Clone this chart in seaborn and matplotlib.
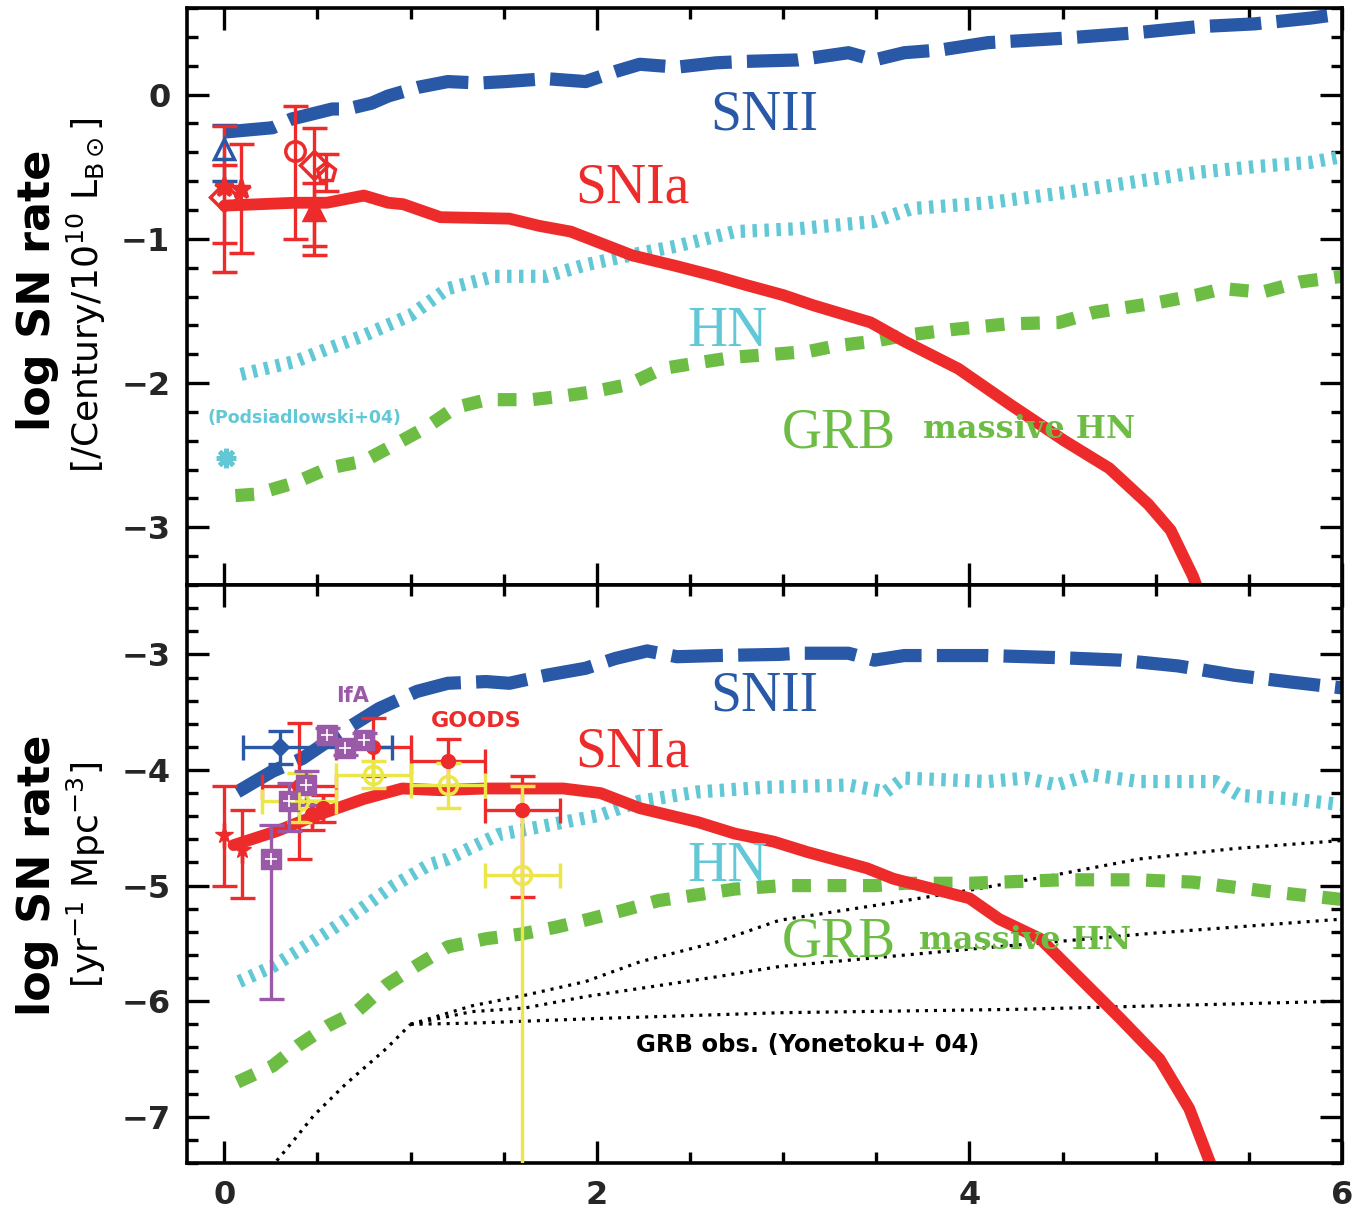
import numpy as np
import pandas as pd
import matplotlib
matplotlib.use("Agg")
import matplotlib.pyplot as plt
import seaborn as sns
from matplotlib.ticker import MultipleLocator

# ---------------- data: top panel (per luminosity) ----------------
snii_top_x = [0.0, 0.26, 0.36, 0.58, 0.66, 0.79, 0.88, 1.04, 1.2, 1.37, 1.51, 1.73, 1.94, 2.1, 2.23, 2.43, 2.64, 2.8,
              3.08, 3.35, 3.49, 3.65, 3.85, 4.1, 4.5, 4.91, 5.22, 5.53, 5.83, 6.0]
snii_top_y = [-0.26, -0.23, -0.17, -0.10, -0.10, -0.06, -0.01, 0.05, 0.09, 0.08, 0.09, 0.11, 0.09, 0.16, 0.21, 0.19,
              0.22, 0.23, 0.24, 0.29, 0.24, 0.29, 0.31, 0.36, 0.39, 0.43, 0.47, 0.49, 0.53, 0.56]

snia_top_x = [0.0, 0.38, 0.55, 0.75, 0.88, 0.96, 1.16, 1.53, 1.69, 1.86, 2.02, 2.19, 2.43, 2.64, 2.8, 3.0, 3.16,
              3.47, 3.65, 3.94, 4.22, 4.51, 4.75, 4.96, 5.08, 5.2, 5.26]
snia_top_y = [-0.77, -0.75, -0.75, -0.70, -0.75, -0.76, -0.85, -0.86, -0.91, -0.95, -1.03, -1.115, -1.19, -1.26,
              -1.32, -1.39, -1.46, -1.58, -1.71, -1.90, -2.15, -2.40, -2.59, -2.84, -3.02, -3.34, -3.55]

hn_top_x = [0.09, 0.38, 0.56, 0.75, 1.0, 1.2, 1.45, 1.73, 1.94, 2.23, 2.43, 2.74, 3.08, 3.49, 3.69, 4.1, 4.51,
            4.91, 5.22, 5.53, 5.83, 6.0]
hn_top_y = [-1.94, -1.85, -1.76, -1.67, -1.53, -1.345, -1.26, -1.26, -1.18, -1.10, -1.05, -0.95, -0.93, -0.88,
            -0.79, -0.75, -0.68, -0.60, -0.54, -0.50, -0.47, -0.43]

grb_top_x = [0.06, 0.17, 0.38, 0.56, 0.75, 0.91, 1.08, 1.24, 1.41, 1.65, 1.82, 1.98, 2.17, 2.35, 2.54, 2.74, 2.95,
             3.14, 3.29, 3.49, 3.65, 3.9, 4.2, 4.48, 4.67, 5.02, 5.22, 5.36, 5.57, 5.77, 6.0]
grb_top_y = [-2.78, -2.77, -2.69, -2.59, -2.54, -2.43, -2.31, -2.17, -2.115, -2.115, -2.09, -2.06, -2.01, -1.90,
             -1.86, -1.82, -1.80, -1.78, -1.74, -1.71, -1.67, -1.63, -1.59, -1.58, -1.51, -1.44, -1.39, -1.345,
             -1.37, -1.30, -1.26]

# observed rates, top panel: x, y, y_low, y_high
obs_top_x = [0.0, 0.0, 0.0, 0.09, 0.38, 0.48, 0.545, 0.48]
obs_top_y = [-0.38, -0.71, -0.64, -0.655, -0.39, -0.49, -0.54, -0.80]
obs_top_lo = [-0.60, -1.23, -1.03, -1.10, -1.00, -1.05, -0.67, -1.11]
obs_top_hi = [-0.21, -0.22, -0.49, -0.345, -0.076, -0.23, -0.41, -0.61]
obs_top_mk = ['^', 'D', '*', '*', 'o', 'D', 'p', '^']
obs_top_col = ['blue', 'red', 'red', 'red', 'red', 'red', 'red', 'red']
obs_top_fill = [False, False, True, True, False, False, False, True]

podsi_x = [0.01]
podsi_y = [-2.52]

# ---------------- data: bottom panel (per volume) ----------------
snii_bot_x = [0.07, 0.26, 0.42, 0.63, 0.83, 1.035, 1.2, 1.405, 1.53, 1.73, 1.94, 2.1, 2.27, 2.43, 2.64, 2.98, 3.08,
              3.35, 3.49, 3.65, 4.1, 4.51, 4.81, 5.12, 5.42, 5.73, 6.0]
snii_bot_y = [-4.19, -4.01, -3.90, -3.67, -3.47, -3.32, -3.25, -3.235, -3.25, -3.18, -3.12, -3.035, -2.97, -3.02,
              -3.01, -3.0, -2.99, -2.99, -3.05, -3.01, -3.01, -3.03, -3.05, -3.10, -3.18, -3.24, -3.29]

snia_bot_x = [0.05, 0.28, 0.5, 0.75, 0.955, 1.16, 1.405, 1.82, 2.02, 2.23, 2.54, 2.74, 2.95, 3.13, 3.45, 3.59, 4.0,
              4.16, 4.38, 4.81, 5.02, 5.18, 5.34]
snia_bot_y = [-4.65, -4.53, -4.39, -4.25, -4.16, -4.175, -4.16, -4.16, -4.20, -4.33, -4.45, -4.55, -4.62, -4.71,
              -4.85, -4.94, -5.11, -5.29, -5.46, -6.15, -6.50, -6.93, -7.6]

hn_bot_x = [0.08, 0.26, 0.44, 0.585, 0.71, 0.91, 1.1, 1.2, 1.47, 1.73, 2.02, 2.23, 2.54, 2.9, 3.35, 3.55, 3.65,
            4.1, 4.3, 4.47, 4.65, 4.91, 5.32, 5.45, 5.73, 6.0]
hn_bot_y = [-5.83, -5.70, -5.52, -5.37, -5.23, -5.0, -4.82, -4.77, -4.56, -4.48, -4.39, -4.27, -4.19, -4.15, -4.13,
            -4.19, -4.07, -4.10, -4.07, -4.13, -4.04, -4.10, -4.10, -4.22, -4.25, -4.30]

grb_bot_x = [0.07, 0.26, 0.40, 0.56, 0.71, 0.87, 1.035, 1.2, 1.405, 1.59, 1.78, 1.96, 2.15, 2.33, 2.54, 2.74, 3.0,
             3.5, 3.65, 4.0, 4.5, 4.9, 5.2, 5.6, 6.0]
grb_bot_y = [-6.70, -6.56, -6.38, -6.21, -6.09, -5.86, -5.69, -5.53, -5.46, -5.42, -5.36, -5.29, -5.21, -5.13,
             -5.08, -5.03, -5.0, -5.0, -4.98, -4.98, -4.95, -4.95, -4.97, -5.05, -5.12]

# GRB observed (Yonetoku+04): common rising part, then three branches
grbobs_common_x = [0.22, 0.38, 0.48, 0.65, 0.87, 1.0]
grbobs_common_y = [-7.5, -7.19, -6.99, -6.72, -6.41, -6.2]
grbobs_up_x = [1.0, 1.33, 1.61, 1.94, 2.23, 2.64, 2.98, 3.5, 4.0, 4.42, 4.91, 5.42, 6.0]
grbobs_up_y = [-6.2, -6.04, -5.95, -5.83, -5.66, -5.49, -5.30, -5.17, -5.04, -4.92, -4.77, -4.68, -4.61]
grbobs_mid_x = [1.0, 1.33, 1.61, 1.94, 2.23, 2.64, 2.98, 4.0, 5.0, 6.0]
grbobs_mid_y = [-6.2, -6.09, -6.06, -5.96, -5.89, -5.79, -5.70, -5.55, -5.41, -5.29]
grbobs_low_x = [1.0, 1.33, 2.0, 2.98, 4.27, 6.0]
grbobs_low_y = [-6.2, -6.19, -6.15, -6.10, -6.07, -6.0]

# observed rates, bottom panel: x, y, x_err_low, x_err_high, y_low, y_high
red_bot_x = [0.0, 0.095, 0.4, 0.47, 0.53, 0.8, 1.2, 1.6]
red_bot_y = [-4.56, -4.69, -4.14, -4.38, -4.33, -3.80, -3.92, -4.35]
red_bot_xlo = [0, 0, 0.2, 0, 0, 0.2, 0.2, 0.2]
red_bot_xhi = [0, 0, 0.2, 0, 0, 0.2, 0.2, 0.2]
red_bot_lo = [-5.0, -5.11, -4.77, -4.52, -4.45, -4.05, -4.15, -5.10]
red_bot_hi = [-4.14, -4.35, -3.59, -4.27, -4.22, -3.55, -3.73, -4.05]
red_bot_mk = ['*', '*', 'o', 'o', 'o', 'o', 'o', 'o']

yel_bot_x = [0.4, 0.8, 1.2, 1.6]
yel_bot_y = [-4.27, -4.045, -4.13, -4.91]
yel_bot_lo = [-4.45, -4.16, -4.33, -8.0]
yel_bot_hi = [-4.03, -3.92, -3.94, -4.14]

pur_bot_x = [0.25, 0.345, 0.44, 0.55, 0.65, 0.75]
pur_bot_y = [-4.77, -4.27, -4.13, -3.70, -3.81, -3.74]
pur_bot_lo = [-5.98, -4.53, -4.30, -3.76, -3.87, -3.80]
pur_bot_hi = [-4.48, -4.11, -4.01, -3.64, -3.75, -3.68]

blue_bot_x = [0.30]
blue_bot_y = [-3.80]
blue_bot_xlo = [0.2]
blue_bot_xhi = [0.6]
blue_bot_lo = [-3.95]
blue_bot_hi = [-3.66]

# ---------------- style ----------------
sns.set_theme(style="ticks")
plt.rcParams['font.family'] = ['DejaVu Sans']
plt.rcParams['lines.scale_dashes'] = False
plt.rcParams['axes.linewidth'] = 2.6
plt.rcParams['mathtext.fontset'] = 'dejavusans'

BLUE = '#2858a6'
RED = '#ee2b2b'
CYAN = '#62c8d6'
GREEN = '#6dbd45'
PURPLE = '#9b5aa8'
YELLOW = '#ebe64a'
COLS = {'blue': BLUE, 'red': RED}

fig = plt.figure(figsize=(13.53, 12.13), dpi=100)
ax1 = fig.add_axes([0.1382, 0.5177, 0.8537, 0.4757])
ax2 = fig.add_axes([0.1382, 0.0412, 0.8537, 0.4765])


def curve(ax, x, y, color, lw, ls):
    df = pd.DataFrame({'x': x, 'y': y})
    sns.lineplot(data=df, x='x', y='y', ax=ax, color=color, linewidth=lw, linestyle=ls,
                 sort=False, estimator=None)


LS_SNII = (0, (37, 11))
LS_HN = (0, (3.2, 5.4))
LS_GRB = (0, (13.5, 12))
LS_OBS = (0, (2.2, 4.3))

# top panel curves
curve(ax1, hn_top_x, hn_top_y, CYAN, 9.5, LS_HN)
curve(ax1, grb_top_x, grb_top_y, GREEN, 9.5, LS_GRB)
curve(ax1, snii_top_x, snii_top_y, BLUE, 9.5, LS_SNII)
curve(ax1, snia_top_x, snia_top_y, RED, 8.5, '-')

for x, y, lo, hi, mk, c, f in zip(obs_top_x, obs_top_y, obs_top_lo, obs_top_hi, obs_top_mk, obs_top_col,
                                  obs_top_fill):
    col = COLS[c]
    ax1.errorbar([x], [y], yerr=[[y - lo], [hi - y]], fmt=mk, color=col, ecolor=col,
                 mfc=col if f else 'none', mec=col, mew=2.5, ms=14, capsize=9, elinewidth=2.4,
                 capthick=2.4, zorder=5)
ax1.plot(podsi_x, podsi_y, marker=(8, 2, 0), ms=14, mew=3.5, color=CYAN, ls='none')

# bottom panel curves
curve(ax2, grbobs_common_x, grbobs_common_y, 'black', 2.3, LS_OBS)
curve(ax2, grbobs_up_x, grbobs_up_y, 'black', 2.3, LS_OBS)
curve(ax2, grbobs_mid_x, grbobs_mid_y, 'black', 2.3, LS_OBS)
curve(ax2, grbobs_low_x, grbobs_low_y, 'black', 2.3, LS_OBS)
curve(ax2, hn_bot_x, hn_bot_y, CYAN, 9.5, LS_HN)
curve(ax2, grb_bot_x, grb_bot_y, GREEN, 9.5, LS_GRB)
curve(ax2, snii_bot_x, snii_bot_y, BLUE, 9.5, LS_SNII)
curve(ax2, snia_bot_x, snia_bot_y, RED, 8.5, '-')

EB = dict(capsize=9, elinewidth=2.4, capthick=2.4, zorder=5)
for x, y, xl, xh, lo, hi, mk in zip(red_bot_x, red_bot_y, red_bot_xlo, red_bot_xhi, red_bot_lo, red_bot_hi,
                                    red_bot_mk):
    ax2.errorbar([x], [y], xerr=[[xl], [xh]], yerr=[[y - lo], [hi - y]], fmt=mk, color=RED,
                 ms=13 if mk == '*' else 10, **EB)
for x, y, lo, hi in zip(yel_bot_x, yel_bot_y, yel_bot_lo, yel_bot_hi):
    ax2.errorbar([x], [y], xerr=[[0.2], [0.2]], yerr=[[y - lo], [hi - y]], fmt='o', color=YELLOW,
                 mfc='none', mec=YELLOW, mew=2.5, ms=13, **EB)
    ax2.plot([x], [y], marker='+', ms=13, mew=2, color=YELLOW, zorder=6)
for x, y, lo, hi in zip(pur_bot_x, pur_bot_y, pur_bot_lo, pur_bot_hi):
    ax2.errorbar([x], [y], yerr=[[y - lo], [hi - y]], fmt='s', color=PURPLE, ms=15, **EB)
    ax2.plot([x], [y], marker='+', ms=8, mew=1.2, color='white', zorder=6)
ax2.errorbar(blue_bot_x, blue_bot_y, xerr=[blue_bot_xlo, blue_bot_xhi],
             yerr=[[blue_bot_y[0] - blue_bot_lo[0]], [blue_bot_hi[0] - blue_bot_y[0]]],
             fmt='D', color=BLUE, ms=9, **EB)

# ---------------- axes ----------------
for ax in (ax1, ax2):
    ax.set_xlim(-0.2, 6)
    ax.set_xlabel('')
    ax.set_ylabel('')
    ax.xaxis.set_major_locator(MultipleLocator(2))
    ax.xaxis.set_minor_locator(MultipleLocator(0.5))
    ax.yaxis.set_major_locator(MultipleLocator(1))
    ax.yaxis.set_minor_locator(MultipleLocator(0.2))
    ax.tick_params(which='both', direction='in', top=True, right=True, width=2.4, color='black')
    ax.tick_params(which='major', length=16, labelsize=23, pad=12)
    ax.tick_params(which='minor', length=8)
    for s in ax.spines.values():
        s.set_color('black')
        s.set_linewidth(2.6)
ax1.set_ylim(-3.4, 0.6)
ax2.set_ylim(-7.4, -2.4)
ax1.tick_params(labelbottom=False)
for ax in (ax1, ax2):
    for lbl in ax.get_xticklabels() + ax.get_yticklabels():
        lbl.set_fontweight('bold')

# ---------------- labels ----------------
SERIF = dict(family='Liberation Serif', fontsize=40, ha='center', va='baseline')
ax1.text(2.90, -0.24, 'SNII', color=BLUE, **SERIF)
ax1.text(2.19, -0.745, 'SNIa', color=RED, **SERIF)
ax1.text(2.70, -1.745, 'HN', color=CYAN, **SERIF)
ax1.text(3.30, -2.45, 'GRB', color=GREEN, **SERIF)
ax1.text(4.32, -2.38, 'massive HN', color=GREEN, family='DejaVu Serif', fontweight='bold', fontsize=23,
         ha='center', va='baseline')
ax1.text(0.43, -2.24, '(Podsiadlowski+04)', color=CYAN, fontweight='bold', fontsize=12.5,
         ha='center', va='center')

ax2.text(2.90, -3.485, 'SNII', color=BLUE, **SERIF)
ax2.text(2.19, -3.97, 'SNIa', color=RED, **SERIF)
ax2.text(2.70, -4.96, 'HN', color=CYAN, **SERIF)
ax2.text(3.30, -5.615, 'GRB', color=GREEN, **SERIF)
ax2.text(4.30, -5.545, 'massive HN', color=GREEN, family='DejaVu Serif', fontweight='bold', fontsize=23,
         ha='center', va='baseline')
ax2.text(0.69, -3.41, 'IfA', color=PURPLE, fontweight='bold', fontsize=15, ha='center', va='baseline')
ax2.text(1.35, -3.63, 'GOODS', color=RED, fontweight='bold', fontsize=16, ha='center', va='baseline')
ax2.text(3.13, -6.44, 'GRB obs. (Yonetoku+ 04)', color='black', fontweight='bold', fontsize=17.5,
         ha='center', va='baseline')

fig.text(38 / 1353, 1 - 290 / 1213, 'log SN rate', rotation=90, ha='center', va='center', fontsize=32,
         fontweight='bold', color='black')
fig.text(86 / 1353, 1 - 295 / 1213, r'[/Century/10$^{10}$ L$_{\mathrm{B}\odot}$]', rotation=90, ha='center',
         va='center', fontsize=26, color='black')
fig.text(38 / 1353, 1 - 875 / 1213, 'log SN rate', rotation=90, ha='center', va='center', fontsize=32,
         fontweight='bold', color='black')
fig.text(86 / 1353, 1 - 875 / 1213, r'[yr$^{-1}$ Mpc$^{-3}$]', rotation=90, ha='center', va='center',
         fontsize=26, color='black')

fig.savefig('out.png', dpi=100, facecolor='white')
